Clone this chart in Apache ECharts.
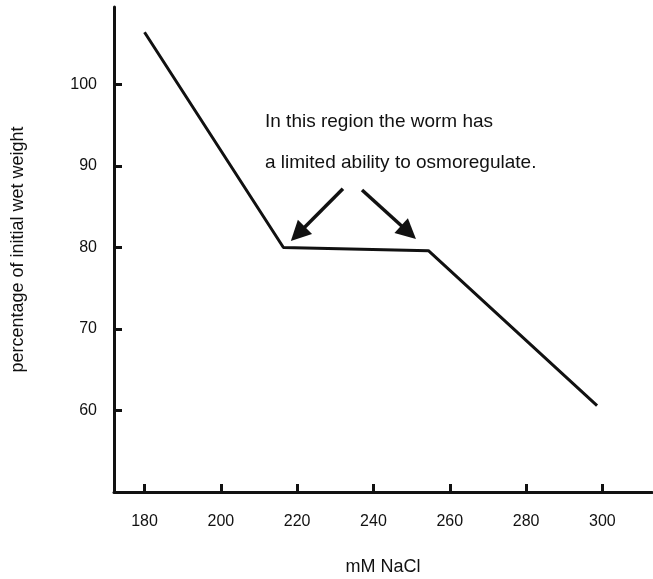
<!DOCTYPE html>
<html>
<head>
<meta charset="utf-8">
<script src="https://cdn.jsdelivr.net/npm/echarts@6/dist/echarts.min.js"></script>
<style>
  html, body { margin: 0; padding: 0; background: #fff; }
  #chart { width: 653px; height: 579px; }
</style>
</head>
<body>
<div id="chart"></div>
<script>
// data
const naclMM = [180, 216.4, 254.4, 298.6]
const wetWeightPct = [106.4, 80.0, 79.6, 60.6]
const xTicks = [180, 200, 220, 240, 260, 280, 300]
const yTicks = [60, 70, 80, 90, 100]
// arrows: [tail, head centre] in data coordinates
const arrowLeft = [[232, 87.2], [220.2, 81.65]]
const arrowRight = [[237, 87.05], [249.2, 81.86]]
const noteLines = ['In this region the worm has', 'a limited ability to osmoregulate.']

const ink = '#111'
const font = '"Liberation Sans", Arial, Helvetica, sans-serif'

const chart = echarts.init(document.getElementById('chart'))

chart.setOption({
  animation: false,
  backgroundColor: '#fff',
  grid: { left: 114, right: 1, top: 7, bottom: 87, containLabel: false, outerBoundsMode: 'none' },
  xAxis: {
    type: 'value',
    min: 172,
    max: 313,
    name: 'mM NaCl',
    nameLocation: 'middle',
    nameGap: 66,
    nameTextStyle: { color: ink, fontSize: 18, fontFamily: font },
    splitLine: { show: false },
    axisLine: { lineStyle: { color: ink, width: 3 } },
    axisTick: { inside: true, length: 8, customValues: xTicks, lineStyle: { color: ink, width: 3 } },
    axisLabel: { customValues: xTicks, color: ink, fontSize: 16, fontFamily: font, margin: 22 },
  },
  yAxis: {
    type: 'value',
    min: 50,
    max: 109.5,
    name: 'percentage of initial wet weight',
    nameLocation: 'middle',
    nameGap: 87,
    nameTextStyle: { color: ink, fontSize: 18, fontFamily: font },
    splitLine: { show: false },
    axisLine: { onZero: false, lineStyle: { color: ink, width: 3 } },
    axisTick: { inside: true, length: 8, customValues: yTicks, lineStyle: { color: ink, width: 3 } },
    axisLabel: { customValues: yTicks, color: ink, fontSize: 16, fontFamily: font, margin: 17 },
  },
  series: [
    {
      type: 'line',
      data: naclMM.map((x, i) => [x, wetWeightPct[i]]),
      symbol: 'none',
      lineStyle: { color: ink, width: 3 },
      markLine: {
        silent: true,
        symbol: ['none', 'triangle'],
        symbolSize: 20,
        label: { show: false },
        lineStyle: { color: ink, width: 3.5, type: 'solid' },
        data: [
          [{ coord: arrowLeft[0] }, { coord: arrowLeft[1] }],
          [{ coord: arrowRight[0] }, { coord: arrowRight[1] }],
        ],
      },
    },
  ],
  graphic: noteLines.map((t, i) => ({
    type: 'text',
    left: 265,
    top: 112 + i * 41,
    style: { text: t, fill: ink, font: '19px ' + font },
  })),
})
</script>
</body>
</html>
